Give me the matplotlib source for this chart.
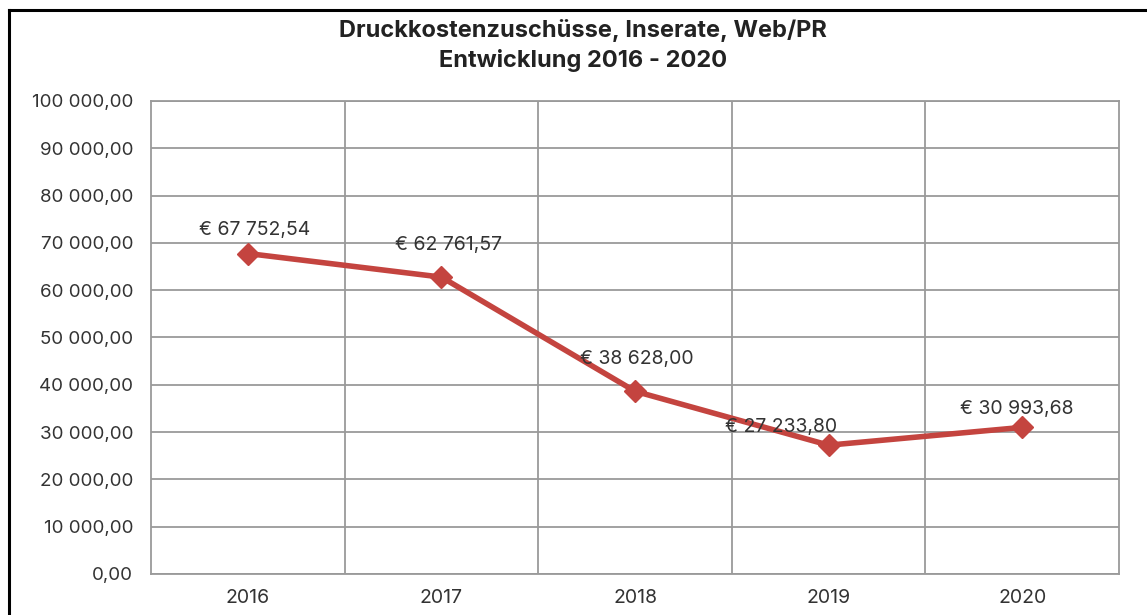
import matplotlib
matplotlib.use("Agg")
import matplotlib.pyplot as plt
from matplotlib.lines import Line2D
from matplotlib.ticker import FuncFormatter, FixedLocator

plt.rcParams['font.family'] = ['Inter', 'DejaVu Sans']

# Daten
years = ['2016', '2017', '2018', '2019', '2020']
values = [67752.54, 62761.57, 38628.00, 27233.80, 30993.68]
# Versatz der Datenbeschriftungen in Punkten (dx, dy)
label_offsets = [(5, 17), (5, 23), (1, 23), (-34, 13), (-4, 13)]


def de_fmt(v):
    s = f"{v:,.2f}"
    return s.replace(',', ' ').replace('.', ',')


fig = plt.figure(figsize=(11.47, 6.15), dpi=100)
ax = fig.add_axes([0.1317, 0.0667, 0.8439, 0.7691])

x = list(range(len(years)))
ax.plot(x, values, color='#c4443f', linewidth=4, marker='D', markersize=11,
        markeredgecolor='#c4443f', zorder=3)

for xi, v, (dx, dy) in zip(x, values, label_offsets):
    ax.annotate('€ ' + de_fmt(v), (xi, v), xytext=(dx, dy),
                textcoords='offset points', ha='center', va='center',
                fontsize=14, color='#333333')

ax.set_xlim(-0.5, len(years) - 0.5)
ax.set_ylim(0, 100000)
ax.set_yticks(range(0, 100001, 10000))
ax.yaxis.set_major_formatter(FuncFormatter(lambda v, p: de_fmt(v)))
ax.set_xticks(x)
ax.set_xticklabels(years)
ax.xaxis.set_minor_locator(FixedLocator([i + 0.5 for i in x[:-1]]))

ax.grid(axis='y', which='major', color='#9a9a9a', linewidth=1.3)
ax.grid(axis='x', which='minor', color='#9a9a9a', linewidth=1.3)
ax.grid(axis='x', which='major', visible=False)
ax.set_axisbelow(True)
for sp in ax.spines.values():
    sp.set_color('#9a9a9a')
    sp.set_linewidth(1.3)
ax.tick_params(which='both', length=0, labelcolor='#333333')
ax.tick_params(axis='y', pad=13, labelsize=13.5)
ax.tick_params(axis='x', pad=11, labelsize=14)

fig.text(0.508, 0.951, 'Druckkostenzuschüsse, Inserate, Web/PR',
         ha='center', va='center', fontsize=17, fontweight='bold', color='#222222')
fig.text(0.508, 0.902, 'Entwicklung 2016 - 2020',
         ha='center', va='center', fontsize=17, fontweight='bold', color='#222222')

# Rahmen (links und oben sichtbar)
fig.add_artist(Line2D([0.0075, 0.0075], [0.0, 0.984], color='black', linewidth=2.2,
                      transform=fig.transFigure))
fig.add_artist(Line2D([0.0075, 1.0], [0.984, 0.984], color='black', linewidth=2.2,
                      transform=fig.transFigure))

fig.savefig('out.png', dpi=100)
